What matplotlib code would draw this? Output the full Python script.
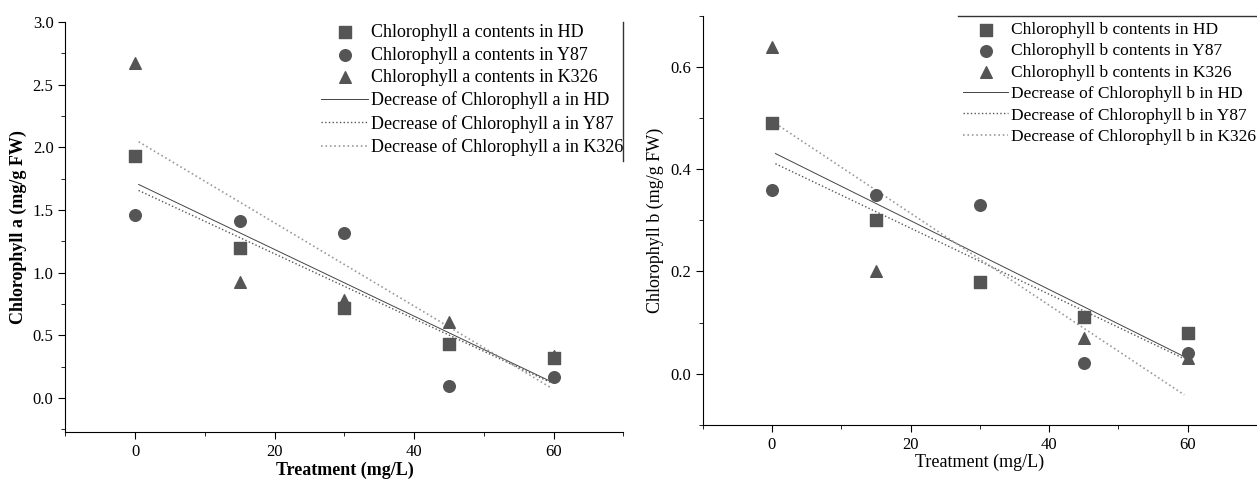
import numpy as np
import matplotlib.pyplot as plt
from matplotlib.lines import Line2D
from matplotlib.ticker import MultipleLocator

plt.rcParams['font.family'] = ['Liberation Serif', 'DejaVu Serif']

# treatment concentrations (mg/L)
treatment = [0, 15, 30, 45, 60]

# chlorophyll a (mg/g FW)
chl_a_hd = [1.93, 1.20, 0.72, 0.43, 0.32]
chl_a_y87 = [1.46, 1.41, 1.32, 0.10, 0.17]
chl_a_k326 = [2.67, 0.93, 0.78, 0.61, 0.34]

# chlorophyll b (mg/g FW)
chl_b_hd = [0.49, 0.30, 0.18, 0.11, 0.08]
chl_b_y87 = [0.36, 0.35, 0.33, 0.02, 0.04]
chl_b_k326 = [0.64, 0.20, 0.18, 0.07, 0.03]

varieties = ['HD', 'Y87', 'K326']
markers = ['s', 'o', '^']
line_styles = [('-', '#444444', 0.7), (':', '#555555', 1.0), (':', '#9a9a9a', 1.2)]
mcol = '#555555'

fig = plt.figure(figsize=(12.57, 4.80), dpi=100)
ax1 = fig.add_axes([0.052, 0.10, 0.444, 0.854])
ax2 = fig.add_axes([0.559, 0.115, 0.441, 0.852])


def draw_panel(ax, series, pig, ylabel, ylim, ymaj, ymin, bold, anchor, lfs):
    x = np.array(treatment, dtype=float)
    handles = []
    for vals, m, v in zip(series, markers, varieties):
        h = ax.scatter(x, vals, marker=m, s=70, color=mcol, zorder=3,
                       label=f'Chlorophyll {pig} contents in {v}')
        handles.append(h)
    xx = np.array([0.5, 59.5])
    for vals, (ls, c, lw), v in zip(series, line_styles, varieties):
        k, b = np.polyfit(x, vals, 1)
        ln, = ax.plot(xx, k * xx + b, ls=ls, color=c, lw=lw, zorder=2,
                      label=f'Decrease of Chlorophyll {pig} in {v}')
        handles.append(ln)

    ax.set_xlim(-10, 70)
    ax.set_ylim(*ylim)
    ax.xaxis.set_major_locator(MultipleLocator(20))
    ax.xaxis.set_minor_locator(MultipleLocator(10))
    ax.yaxis.set_major_locator(MultipleLocator(ymaj))
    ax.yaxis.set_minor_locator(MultipleLocator(ymin))
    ax.spines['top'].set_visible(False)
    ax.spines['right'].set_visible(False)
    ax.tick_params(which='both', direction='out', labelsize=12)
    ax.tick_params(which='major', length=5)
    ax.tick_params(which='minor', length=3)
    w = 'bold' if bold else 'normal'
    ax.set_xlabel('Treatment (mg/L)', fontsize=13, fontweight=w, labelpad=1)
    ax.set_ylabel(ylabel, fontsize=13, fontweight=w, labelpad=4)
    ax.yaxis.set_major_formatter(plt.FuncFormatter(lambda v, p: f'{v:.1f}'))
    leg = ax.legend(handles=handles, loc='upper right', frameon=False,
                    fontsize=lfs, handlelength=2.6, handletextpad=0.15,
                    labelspacing=0.3, borderaxespad=0.0, borderpad=0.0,
                    bbox_to_anchor=anchor)
    return leg


draw_panel(ax1, [chl_a_hd, chl_a_y87, chl_a_k326], 'a',
           'Chlorophyll a (mg/g FW)', (-0.27, 3.0), 0.5, 0.25, True,
           (1.0, 0.995), 13)
draw_panel(ax2, [chl_b_hd, chl_b_y87, chl_b_k326], 'b',
           'Chlorophyll b (mg/g FW)', (-0.1, 0.7), 0.2, 0.1, False,
           (0.998, 0.985), 12.5)

# remnants of legend frames
ax1.add_line(Line2D([1.0, 1.0], [0.66, 1.0], transform=ax1.transAxes,
                    color='#333333', lw=1.0, clip_on=False))
ax2.add_line(Line2D([0.46, 1.0], [1.0, 1.0], transform=ax2.transAxes,
                    color='#333333', lw=1.0, clip_on=False))

fig.savefig('out.png', dpi=100)
